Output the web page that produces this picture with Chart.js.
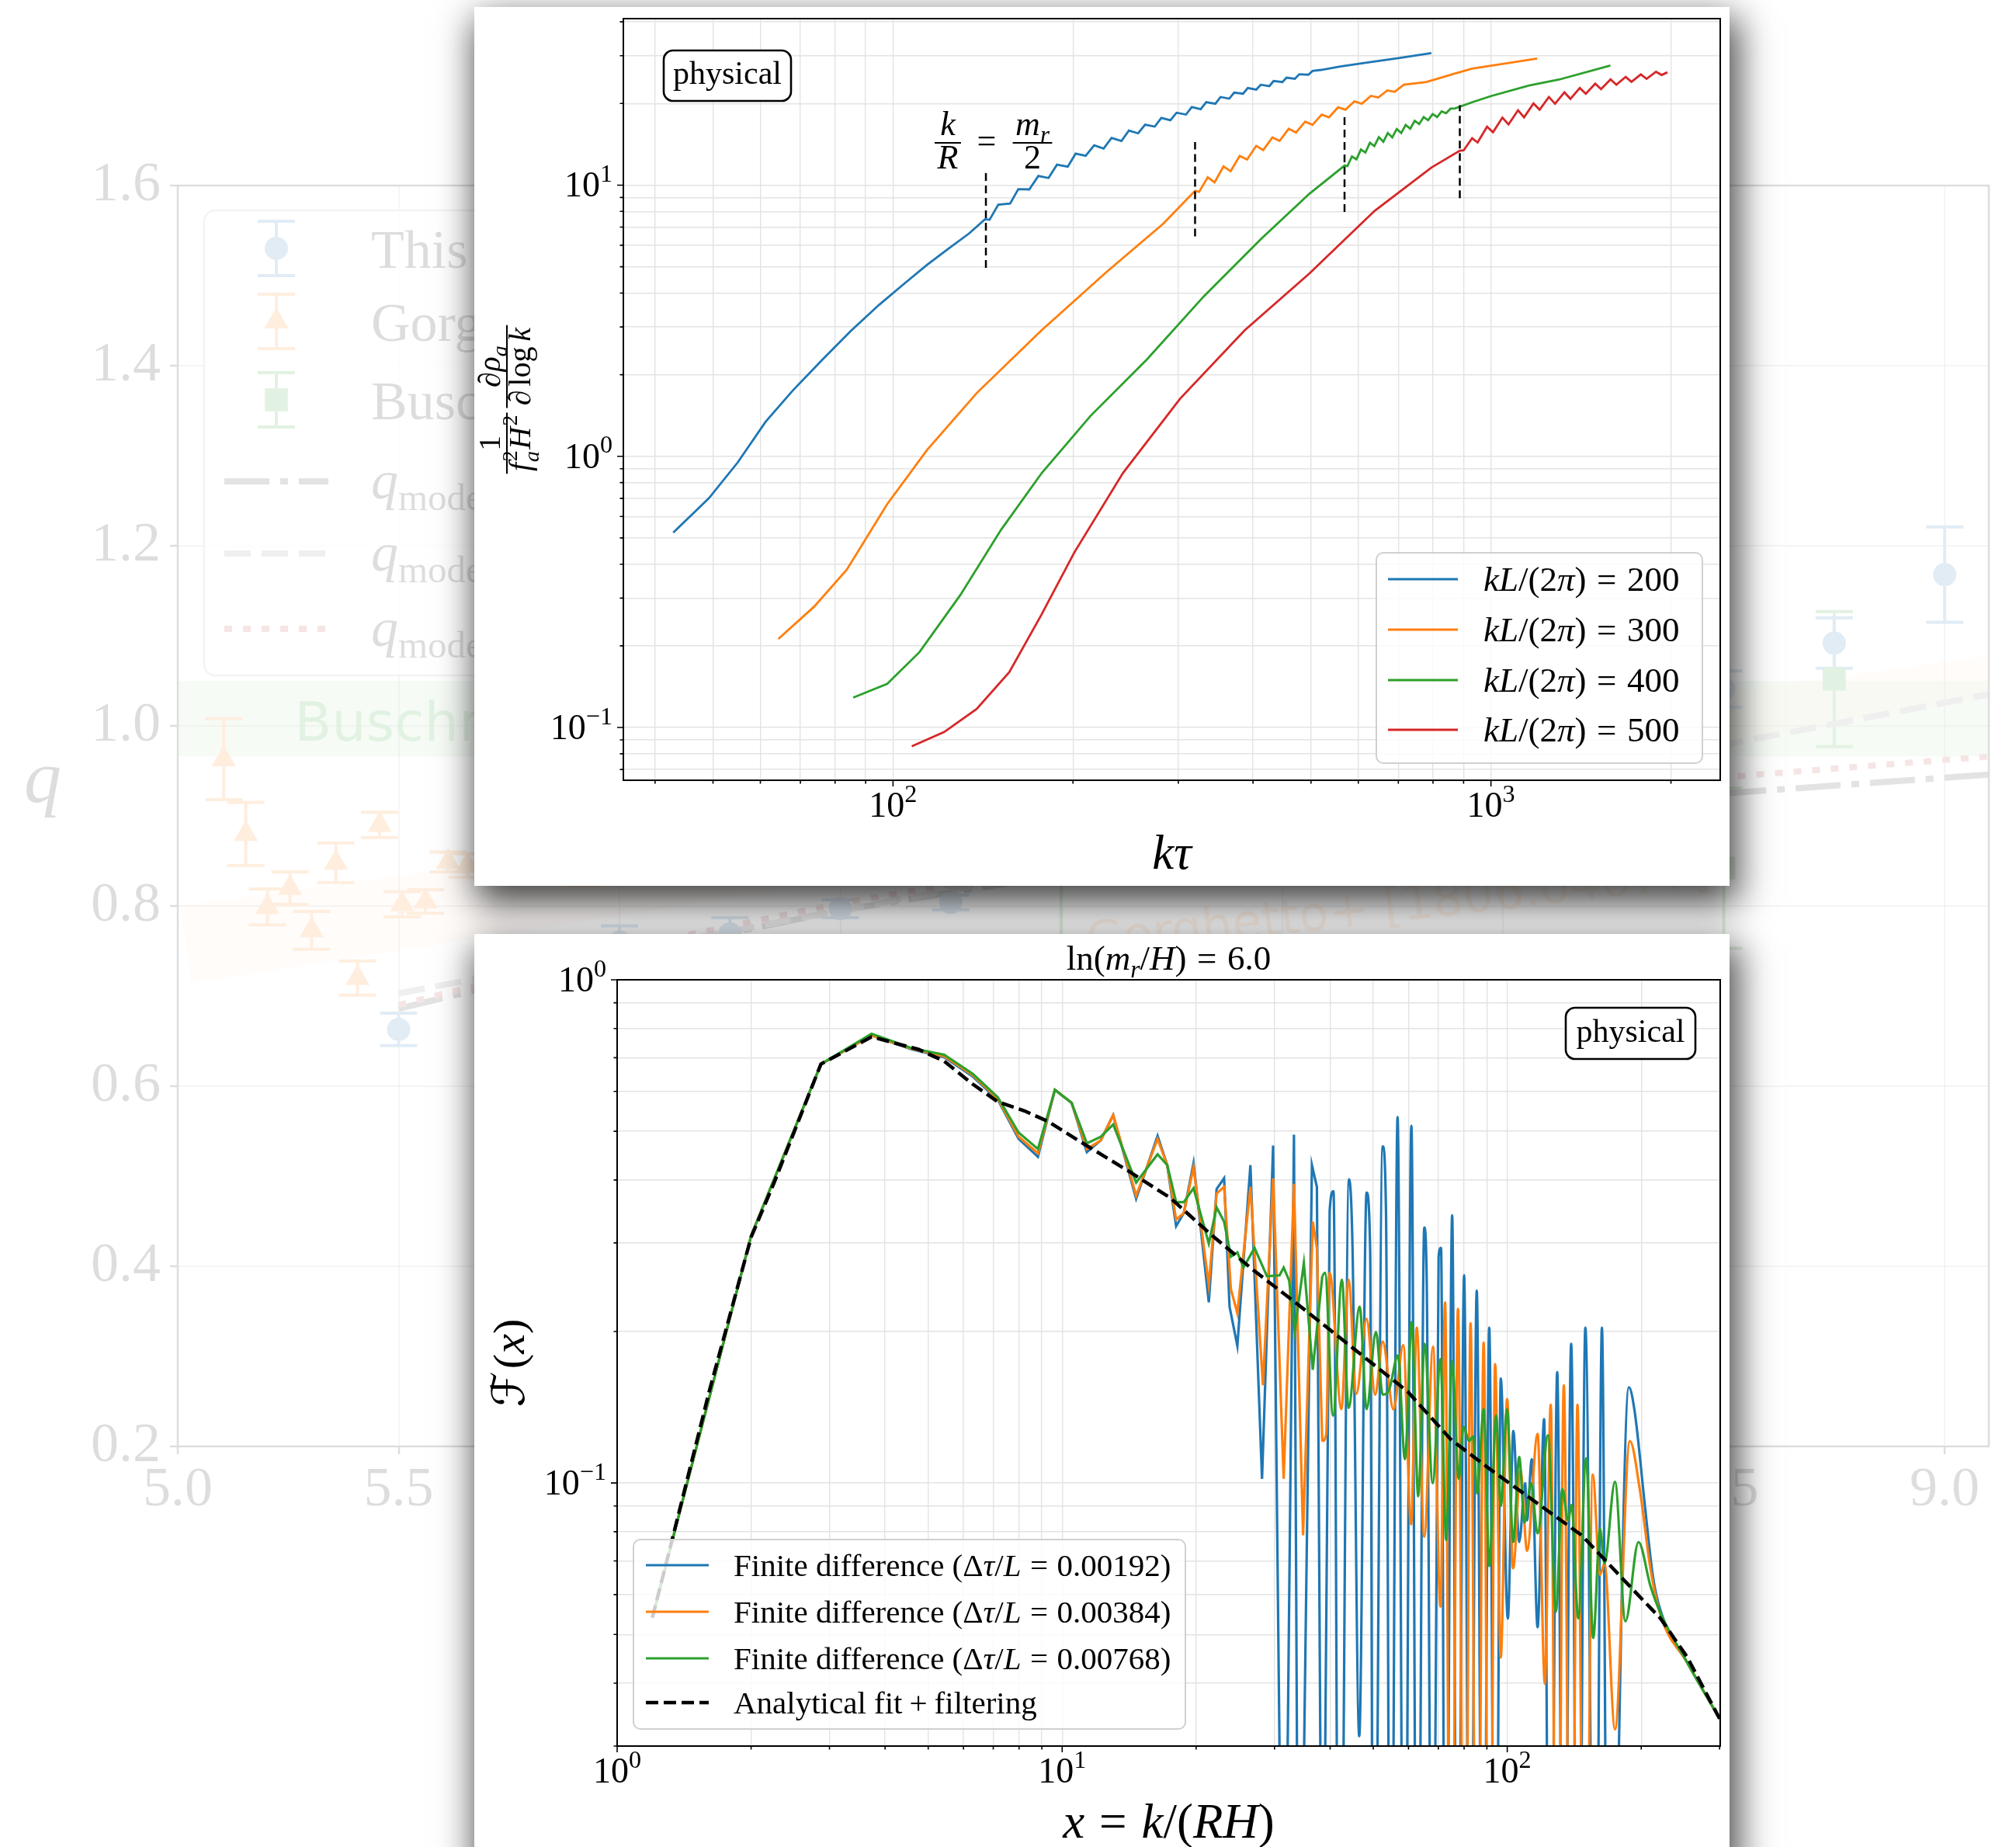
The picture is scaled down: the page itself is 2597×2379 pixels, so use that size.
<!DOCTYPE html>
<html lang="en">
<head>
<meta charset="utf-8">
<title>Axion spectrum panels</title>
<script src="https://cdn.jsdelivr.net/npm/chart.js@4.4.1/dist/chart.umd.min.js"></script>
<style>
  html, body { margin: 0; padding: 0; background: #fff; }
  body { width: 2597px; height: 2379px; position: relative; overflow: hidden; }
  #bgWrap { position: absolute; left: 0; top: 0; opacity: 0.13; }
  .card { position: absolute; background: #fff; box-shadow: 6px 18px 45px 4px rgba(0,0,0,0.75); }
  #cardTop { left: 611px; top: 9px; width: 1617px; height: 1132px; }
  #cardBot { left: 611px; top: 1203px; width: 1617px; height: 1200px; }
  canvas { display: block; }
</style>
</head>
<body>
<div id="bgWrap"><canvas id="bg" width="2597" height="2379"></canvas></div>
<div class="card" id="cardTop"><canvas id="top" width="1617" height="1132"></canvas></div>
<div class="card" id="cardBot"><canvas id="bot" width="1617" height="1200"></canvas></div>
<script>
// ---------- shared styling ----------
const SERIF = '"Liberation Serif", "DejaVu Serif", serif';
const SANS = '"DejaVu Sans", "Liberation Sans", sans-serif';
const SCRIPT = '"DejaVu Sans", "Noto Sans", serif';
const BLUE = '#1f77b4', ORANGE = '#ff7f0e', GREEN = '#2ca02c', RED = '#d62728';

// ---------- background panel: q against ln(m_r/H) ----------
const qTickX = [5.0, 5.5, 6.0, 6.5, 7.0, 7.5, 8.0, 8.5, 9.0];
const qTickY = [0.2, 0.4, 0.6, 0.8, 1.0, 1.2, 1.4, 1.6];
const workX   = [5.5, 6.0, 6.25, 6.5, 6.75, 8.5, 8.75, 9.0];
const workQ   = [0.663, 0.760, 0.769, 0.797, 0.804, 1.041, 1.092, 1.168];
const workErr = [0.018, 0.018, 0.018, 0.010, 0.008, 0.020, 0.028, 0.053];
const gorX   = [5.104, 5.154, 5.203, 5.254, 5.303, 5.358, 5.407, 5.457, 5.508, 5.561, 5.612, 5.656, 5.92, 6.03];
const gorQ   = [0.963, 0.880, 0.799, 0.820, 0.773, 0.848, 0.720, 0.890, 0.802, 0.805, 0.849, 0.845, 0.845, 0.847];
const gorErr = [0.045, 0.035, 0.020, 0.018, 0.021, 0.022, 0.019, 0.014, 0.014, 0.013, 0.011, 0.013, 0.022, 0.022];
const busX   = [7.0, 8.5, 8.75];
const busQ   = [0.860, 0.842, 1.052];
const busErr = [0.120, 0.089, 0.075];
const modelX       = [5.5, 6.0, 6.5, 7.0, 7.5, 8.0, 8.5, 9.1];
const modelDashDot = [0.686, 0.745, 0.795, 0.835, 0.868, 0.897, 0.925, 0.946];
const modelDashed  = [0.703, 0.749, 0.795, 0.841, 0.887, 0.933, 0.979, 1.035];
const modelDotted  = [0.690, 0.752, 0.803, 0.845, 0.880, 0.912, 0.943, 0.966];
const busBandX = [5.0, 9.1], busBandLo = [0.966, 0.966], busBandHi = [1.05, 1.05];
const gorBandTopX = [5.007, 9.1], gorBandTopQ = [0.800, 1.078];
const gorBandBotX = [5.030, 9.1], gorBandBotQ = [0.714, 1.031];
const bgLegendLabels = ['This work', 'Gorghetto+ [1806.04677]', 'Buschmann+ [2108.05368]'];
const bandLabels = ['Gorghetto+ [1806.04677]', 'Buschmann+ [2108.05368]'];

// ---------- upper panel: spectrum of each mode against k*tau ----------
const modeN = [200, 300, 400, 500];
const kTau200 = [42.9, 49.2, 55, 61.2, 68, 76.3, 85, 94.8, 104, 114, 124, 134, 142.5, 145, 150, 157, 162, 169, 175, 182, 188, 196, 202, 210, 217, 225, 232, 241, 248, 257, 264, 274, 281, 291, 298, 309, 316, 327, 334, 346, 353, 365, 372, 385, 392, 405, 412, 426, 433, 448, 455, 470, 478, 495, 503, 520, 560, 620, 700, 795];
const rho200  = [0.523, 0.70, 0.95, 1.34, 1.75, 2.28, 2.9, 3.62, 4.3, 5.08, 5.85, 6.63, 7.48, 7.45, 8.47, 8.55, 9.66, 9.64, 10.81, 10.62, 11.89, 11.70, 13.06, 12.82, 14.03, 13.65, 14.93, 14.55, 15.89, 15.52, 16.71, 16.44, 17.70, 17.34, 18.49, 18.20, 19.41, 19.05, 20.23, 19.95, 21.13, 20.84, 21.93, 21.73, 22.80, 22.49, 23.44, 23.17, 24.21, 23.99, 24.89, 24.66, 25.64, 25.53, 26.36, 26.6, 27.4, 28.3, 29.4, 30.7];
const kTau300 = [64.3, 73.8, 83.7, 97.8, 114, 138, 177, 228, 283, 320, 325, 336, 345, 357, 367, 380, 391, 405, 416, 431, 443, 459, 472, 489, 503, 521, 536, 555, 571, 591, 608, 630, 648, 671, 690, 715, 780, 860, 930, 1050, 1195];
const rho300  = [0.212, 0.279, 0.382, 0.667, 1.055, 1.71, 2.91, 4.8, 7.2, 9.53, 9.44, 10.69, 10.23, 11.72, 11.25, 12.82, 12.42, 13.96, 13.46, 15.0, 14.55, 16.14, 15.63, 17.14, 16.67, 18.2, 17.78, 19.36, 18.97, 20.37, 19.95, 21.33, 21.04, 22.34, 22.08, 23.44, 24.0, 25.6, 26.9, 28.0, 29.3];
const kTau400 = [85.8, 97.8, 110.8, 129.6, 151.6, 177.4, 214, 266, 331, 412, 497, 569, 575.4, 585.5, 595.7, 606.1, 616.6, 627.4, 638.3, 649.4, 660.7, 672.2, 683.9, 695.8, 707.9, 720.1, 732.8, 745.5, 758.6, 771.8, 785.2, 798.9, 812.8, 826.9, 841.4, 855.9, 871, 930, 1000, 1158, 1300, 1584];
const rho400  = [0.129, 0.145, 0.190, 0.308, 0.536, 0.869, 1.41, 2.28, 3.89, 6.31, 9.29, 11.8, 11.75, 12.76, 12.45, 13.52, 13.18, 14.32, 13.93, 15.03, 14.45, 15.56, 15.0, 16.1, 15.56, 16.67, 16.14, 17.26, 16.79, 17.82, 17.34, 18.28, 17.82, 18.71, 18.41, 19.14, 19.19, 20.2, 21.3, 23.3, 24.5, 27.6];
const kTau500 = [107.5, 121.8, 138, 156.5, 177, 201, 242.5, 302, 387, 497, 639, 795, 887, 900, 930, 950, 985, 1008, 1045, 1070, 1110, 1136, 1178, 1206, 1250, 1280, 1327, 1358, 1408, 1441, 1494, 1528, 1585, 1621, 1680, 1718, 1781, 1821, 1888, 1930, 1973];
const rho500  = [0.0853, 0.0963, 0.117, 0.16, 0.26, 0.442, 0.869, 1.63, 2.91, 4.72, 8.04, 11.6, 13.4, 13.43, 14.89, 14.36, 16.41, 15.67, 17.74, 16.75, 18.88, 17.78, 20.0, 18.97, 21.13, 19.95, 21.98, 20.8, 22.8, 21.73, 23.66, 22.6, 24.55, 23.44, 25.06, 24.04, 25.59, 24.66, 26.18, 25.47, 26.06];
// k/R = m_r/2 markers: position and vertical extent
const markKTau = [143, 320, 569, 887];
const markLo   = [4.95, 6.47, 7.96, 8.95];
const markHi   = [11.2, 14.4, 17.9, 19.7];

// ---------- lower panel: F(x) at ln(m_r/H) = 6 ----------
const lnMrH = 6.0;
const stepLabels = ['0.00192', '0.00384', '0.00768'];
const fd1LoX = [1.2, 2.0, 2.87, 3.73, 4.6, 5.43, 6.3, 7.17, 7.98, 8.82, 9.63, 10.5, 11.36, 12.21, 13.02, 14.66, 16.38, 17.22, 18.03, 18.76, 19.73, 21.35, 22.23, 23.11, 23.77, 24.75, 26.48, 28.12, 29.78, 31.45, 33.17, 34.03, 36.4, 37.35, 38.5];
const fd1LoF = [0.054, 0.31, 0.68, 0.775, 0.727, 0.702, 0.642, 0.577, 0.483, 0.445, 0.6045, 0.5696, 0.4546, 0.4797, 0.5385, 0.3672, 0.4894, 0.4282, 0.324, 0.3438, 0.4326, 0.2286, 0.3838, 0.4034, 0.224, 0.1872, 0.4282, 0.1019, 0.4684, 0.005, 0.4923, 0.005, 0.4282, 0.3876, 0.005];
const fd1HiX = [38.5, 39.9, 40.7, 41.96, 44.1, 44.9, 46.5, 48.3, 49.2, 50.1, 52.5, 53.4, 54.7, 56.7, 58.7, 60.9, 62.8, 65.1, 65.9, 68.0, 70.1, 71.0, 72.7, 75.2, 77.3, 80.0, 82.5, 85.4, 88.2, 91.1, 94.1, 96.7, 100.3, 103.2, 106.4, 109.7, 110.8, 113.5, 117.0, 121.0, 124.8, 129.5, 134.0, 139.2, 144.4, 149.8, 157.7, 163.2, 168.8, 187.6, 193.3, 204.0, 212.6, 221.4, 253.6, 300];
const fd1HiF = [0.005, 0.3474, 0.38, 0.005, 0.401, 0.2961, 0.0314, 0.3778, 0.2903, 0.005, 0.4666, 0.3474, 0.005, 0.5333, 0.005, 0.5125, 0.005, 0.3219, 0.2576, 0.005, 0.2817, 0.2932, 0.005, 0.3405, 0.005, 0.2586, 0.005, 0.2411, 0.005, 0.2036, 0.005, 0.1612, 0.0538, 0.1269, 0.0763, 0.0999, 0.0843, 0.1115, 0.0517, 0.1339, 0.005, 0.1661, 0.005, 0.1891, 0.005, 0.2036, 0.005, 0.2036, 0.005, 0.1549, 0.1388, 0.0895, 0.065, 0.0555, 0.044, 0.034];
const fd2LoX = [1.2, 2.0, 2.87, 3.73, 4.6, 5.43, 6.3, 7.17, 7.98, 8.82, 9.63, 10.5, 11.36, 12.21, 13.02, 14.66, 16.38, 17.22, 18.03, 18.76, 19.73, 21.35, 22.23, 23.11, 23.94, 24.75, 26.48, 28.25, 29.78, 31.45, 33.17, 34.77, 36.56, 37.35, 38.4];
const fd2LoF = [0.054, 0.31, 0.68, 0.775, 0.729, 0.705, 0.646, 0.58, 0.488, 0.452, 0.6045, 0.5696, 0.461, 0.4797, 0.5385, 0.3724, 0.4827, 0.4282, 0.3338, 0.3438, 0.4239, 0.2474, 0.3762, 0.3876, 0.2425, 0.2174, 0.3876, 0.1564, 0.4034, 0.1019, 0.393, 0.0787, 0.3305, 0.2931, 0.121];
const fd2HiX = [38.4, 39.2, 39.9, 42.4, 44.0, 45.8, 48.3, 50.5, 52.5, 55.5, 58.4, 60.8, 62.6, 65.1, 68.1, 70.8, 72.5, 74.7, 77.5, 80.3, 82.7, 85.6, 88.5, 91.3, 93.9, 96.7, 99.9, 103.1, 107.1, 110.8, 117.0, 121.5, 125.2, 129.5, 134.0, 139.2, 143.8, 149.4, 155.6, 161.6, 165.4, 174.6, 188.6, 198.6, 209.7, 221.4, 253.6, 300];
const fd2HiF = [0.121, 0.125, 0.2617, 0.1402, 0.2535, 0.1504, 0.2118, 0.1498, 0.191, 0.14, 0.188, 0.0827, 0.2036, 0.0782, 0.1865, 0.0568, 0.2285, 0.005, 0.2218, 0.005, 0.2077, 0.005, 0.19, 0.005, 0.1722, 0.045, 0.1468, 0.0677, 0.106, 0.0733, 0.1252, 0.0399, 0.143, 0.005, 0.1564, 0.005, 0.143, 0.005, 0.1039, 0.0657, 0.0691, 0.0324, 0.1212, 0.0969, 0.0677, 0.0544, 0.044, 0.034];
const fd3LoX = [1.2, 2.0, 2.87, 3.73, 4.6, 5.43, 6.3, 7.17, 7.98, 8.82, 9.63, 10.5, 11.36, 12.21, 13.02, 14.66, 16.38, 17.22, 18.03, 18.76, 19.73, 21.35, 22.23, 23.11, 23.94, 24.75, 25.55, 27.05, 28.85, 30.78, 31.45, 32.36, 33.31, 34.91, 36.56, 38.4];
const fd3LoF = [0.054, 0.31, 0.68, 0.781, 0.731, 0.71, 0.65, 0.584, 0.497, 0.461, 0.6045, 0.5696, 0.4731, 0.4875, 0.5157, 0.3954, 0.4501, 0.4282, 0.3614, 0.3614, 0.3853, 0.299, 0.3529, 0.3305, 0.2817, 0.2873, 0.268, 0.2931, 0.2576, 0.2586, 0.268, 0.2525, 0.2008, 0.2734, 0.1678, 0.2576];
const fd3HiX = [38.4, 38.95, 40.6, 42.5, 44.0, 46.6, 48.3, 50.7, 52.5, 54.3, 56.8, 58.9, 61.0, 63.1, 65.2, 68.0, 70.8, 72.9, 75.2, 77.8, 79.7, 82.1, 83.8, 85.6, 88.5, 91.2, 94.4, 96.7, 99.9, 103.1, 106.4, 109.3, 113.1, 117.0, 123.5, 128.6, 133.0, 136.9, 139.5, 144.4, 150.4, 156.0, 161.6, 165.4, 174.6, 184.3, 197.2, 209.7, 221.4, 253.6, 300];
const fd3HiF = [0.2576, 0.2617, 0.1361, 0.2535, 0.141, 0.224, 0.1402, 0.1995, 0.1498, 0.1534, 0.1792, 0.1115, 0.2089, 0.0941, 0.1891, 0.0999, 0.1763, 0.0771, 0.1746, 0.1019, 0.1294, 0.1212, 0.1237, 0.0954, 0.1402, 0.0684, 0.1361, 0.09, 0.1402, 0.0763, 0.1126, 0.0835, 0.0999, 0.0794, 0.1244, 0.0555, 0.0973, 0.0843, 0.0904, 0.0538, 0.1119, 0.0492, 0.081, 0.0691, 0.1005, 0.0531, 0.0763, 0.0625, 0.0549, 0.044, 0.034];
const fitX = [1.2, 1.33, 1.61, 2.0, 2.25, 2.87, 3.73, 4.76, 5.43, 6.3, 7.17, 8.22, 9.29, 11.36, 14.08, 17.46, 21.66, 26.86, 33.3, 39.0, 59.7, 74.7, 90.8, 147, 188, 221, 254, 300];
const fitF = [0.054, 0.0773, 0.152, 0.308, 0.394, 0.68, 0.77, 0.727, 0.689, 0.62, 0.572, 0.549, 0.523, 0.468, 0.417, 0.369, 0.311, 0.265, 0.229, 0.205, 0.152, 0.122, 0.107, 0.0787, 0.0625, 0.0538, 0.045, 0.034];

// ---------- helpers ----------
const pts = (xs, ys) => xs.map((v, i) => ({x: v, y: ys[i]}));

function logTicks(min, max) {
  const out = [];
  for (let e = Math.floor(Math.log10(min)); e <= Math.ceil(Math.log10(max)); e++) {
    for (let m = 1; m <= 9; m++) {
      const v = m * Math.pow(10, e);
      if (v >= min * 0.9999 && v <= max * 1.0001) out.push({value: v, major: m === 1});
    }
  }
  return out;
}

// rich text: parts are [text, relSize, style('r'|'i'|'c'), dy(em), gapBefore(em), noAdvance]
function richItems(ctx, parts, size) {
  return parts.map(p => {
    const t = p[0], rel = p[1] || 1, st = p[2] || 'r', dy = p[3] || 0, gap = p[4] || 0, still = !!p[5];
    const fam = st === 'c' ? SCRIPT : SERIF;
    const font = (st === 'i' ? 'italic ' : '') + (size * rel).toFixed(1) + 'px ' + fam;
    ctx.font = font;
    return {t, font, dy: dy * size, gap: gap * size, w: ctx.measureText(t).width, still};
  });
}
function richWidth(ctx, parts, size) {
  return richItems(ctx, parts, size).reduce((s, it) => s + it.gap + (it.still ? 0 : it.w), 0);
}
function drawRich(ctx, parts, x, y, size, align) {
  const items = richItems(ctx, parts, size);
  const total = items.reduce((s, it) => s + it.gap + (it.still ? 0 : it.w), 0);
  let cx = align === 'center' ? x - total / 2 : (align === 'right' ? x - total : x);
  ctx.textAlign = 'left';
  ctx.textBaseline = 'alphabetic';
  for (const it of items) {
    cx += it.gap;
    ctx.font = it.font;
    ctx.fillText(it.t, cx, y + it.dy);
    if (!it.still) cx += it.w;
  }
  return total;
}
function fracWidth(ctx, num, den, size) {
  return Math.max(richWidth(ctx, num, size), richWidth(ctx, den, size)) + size * 0.16;
}
function drawFrac(ctx, num, den, cx, barY, size) {
  const w = fracWidth(ctx, num, den, size);
  ctx.beginPath();
  ctx.lineWidth = Math.max(1.6, size * 0.05);
  ctx.moveTo(cx - w / 2, barY);
  ctx.lineTo(cx + w / 2, barY);
  ctx.stroke();
  drawRich(ctx, num, cx, barY - size * 0.22, size, 'center');
  drawRich(ctx, den, cx, barY + size * 0.74, size, 'center');
  return w;
}
function roundRectPath(ctx, x, y, w, h, r) {
  ctx.beginPath();
  ctx.moveTo(x + r, y);
  ctx.arcTo(x + w, y, x + w, y + h, r);
  ctx.arcTo(x + w, y + h, x, y + h, r);
  ctx.arcTo(x, y + h, x, y, r);
  ctx.arcTo(x, y, x + w, y, r);
  ctx.closePath();
}
function tagBox(ctx, x, y, w, h, text, size) {
  roundRectPath(ctx, x, y, w, h, 12);
  ctx.fillStyle = '#fff';
  ctx.fill();
  ctx.lineWidth = 2.6;
  ctx.strokeStyle = '#000';
  ctx.stroke();
  ctx.fillStyle = '#000';
  drawRich(ctx, [[text]], x + w / 2, y + h / 2 + size * 0.25, size, 'center');
}
function legendFrame(ctx, x, y, w, h) {
  roundRectPath(ctx, x, y, w, h, 9);
  ctx.fillStyle = 'rgba(255,255,255,0.8)';
  ctx.fill();
  ctx.lineWidth = 2;
  ctx.strokeStyle = '#d0d0d0';
  ctx.stroke();
}
function powLabel(ctx, e, x, y, align) {
  const ex = e < 0 ? '\u2212' + (-e) : String(e);
  drawRich(ctx, [['10'], [ex, 0.7, 'r', -0.42]], x, y, 46, align);
}
// tick marks, frame and power-of-ten labels of a log-log panel
function axisDecor(chart, expX, expY) {
  const {ctx, chartArea: a, scales: {x, y}} = chart;
  ctx.save();
  ctx.strokeStyle = '#000';
  ctx.fillStyle = '#000';
  ctx.lineWidth = 1.6;
  ctx.beginPath();
  for (const t of x.ticks) {
    const px = x.getPixelForValue(t.value), L = t.major ? 8 : 4.5;
    ctx.moveTo(px, a.bottom); ctx.lineTo(px, a.bottom + L);
  }
  for (const t of y.ticks) {
    const py = y.getPixelForValue(t.value), L = t.major ? 8 : 4.5;
    ctx.moveTo(a.left - L, py); ctx.lineTo(a.left, py);
  }
  ctx.stroke();
  ctx.lineWidth = 2;
  ctx.strokeRect(a.left, a.top, a.right - a.left, a.bottom - a.top);
  for (const e of expX) powLabel(ctx, e, x.getPixelForValue(Math.pow(10, e)), a.bottom + 47, 'center');
  for (const e of expY) powLabel(ctx, e, a.left - 14, y.getPixelForValue(Math.pow(10, e)) + 15, 'right');
  ctx.restore();
}
function lineDs(xs, ys, color, extra) {
  return Object.assign({
    data: pts(xs, ys), showLine: true, borderColor: color, backgroundColor: color,
    borderWidth: 2.8, pointRadius: 0, pointHoverRadius: 0, fill: false, tension: 0
  }, extra || {});
}
function panelOptions(cfg) {
  return {
    responsive: false, animation: false, devicePixelRatio: 1, events: [],
    layout: {padding: {top: cfg.top, right: cfg.right, left: 0, bottom: 0}},
    plugins: {legend: {display: false}, tooltip: {enabled: false}},
    elements: {line: {capBezierPoints: false}},
    scales: {
      x: {
        type: 'logarithmic', min: cfg.xmin, max: cfg.xmax,
        afterBuildTicks: s => { s.ticks = logTicks(cfg.xmin, cfg.xmax); },
        afterFit: s => { s.height = cfg.bottomH; },
        grid: {color: '#e3e3e3', lineWidth: 1.4, drawTicks: false},
        border: {display: false}, ticks: {display: false}
      },
      y: {
        type: 'logarithmic', min: cfg.ymin, max: cfg.ymax,
        afterBuildTicks: s => { s.ticks = logTicks(cfg.ymin, cfg.ymax); },
        afterFit: s => { s.width = cfg.leftW; },
        grid: {color: '#e3e3e3', lineWidth: 1.4, drawTicks: false},
        border: {display: false}, ticks: {display: false}
      }
    }
  };
}

// ---------- background chart ----------
function errBars(ctx, xs, qs, es, color, sx, sy) {
  ctx.strokeStyle = color;
  ctx.lineWidth = 4;
  ctx.beginPath();
  xs.forEach((v, i) => {
    const px = sx.getPixelForValue(v);
    const p0 = sy.getPixelForValue(qs[i] - es[i]), p1 = sy.getPixelForValue(qs[i] + es[i]);
    ctx.moveTo(px, p0); ctx.lineTo(px, p1);
    ctx.moveTo(px - 24, p0); ctx.lineTo(px + 24, p0);
    ctx.moveTo(px - 24, p1); ctx.lineTo(px + 24, p1);
  });
  ctx.stroke();
}
function fillPoly(ctx, list, color) {
  ctx.beginPath();
  list.forEach((p, i) => i ? ctx.lineTo(p[0], p[1]) : ctx.moveTo(p[0], p[1]));
  ctx.closePath();
  ctx.fillStyle = color;
  ctx.fill();
}
const bgDecor = {
  id: 'bgDecor',
  beforeDatasetsDraw(chart) {
    const {ctx, chartArea: a, scales: {x, y}} = chart;
    const P = (vx, vy) => [x.getPixelForValue(vx), y.getPixelForValue(vy)];
    ctx.save();
    ctx.beginPath();
    ctx.rect(a.left, a.top, a.right - a.left, a.bottom - a.top);
    ctx.clip();
    fillPoly(ctx, [P(busBandX[0], busBandHi[0]), P(busBandX[1], busBandHi[1]), P(busBandX[1], busBandLo[1]), P(busBandX[0], busBandLo[0])], 'rgba(44,160,44,0.32)');
    fillPoly(ctx, [P(gorBandTopX[0], gorBandTopQ[0]), P(gorBandTopX[1], gorBandTopQ[1]), P(gorBandBotX[1], gorBandBotQ[1]), P(gorBandBotX[0], gorBandBotQ[0])], 'rgba(255,127,14,0.16)');
    ctx.textAlign = 'left';
    ctx.textBaseline = 'alphabetic';
    const [bx, by] = P(5.264, 0.984);
    ctx.fillStyle = GREEN;
    ctx.font = '70px ' + SANS;
    ctx.fillText(bandLabels[1], bx, by);
    const [gx, gy] = P(7.061, 0.744);
    ctx.save();
    ctx.translate(gx, gy);
    ctx.rotate(-6.5 * Math.PI / 180);
    ctx.fillStyle = ORANGE;
    ctx.globalAlpha = 0.6;
    ctx.font = '62px ' + SANS;
    ctx.fillText(bandLabels[0], 0, 0);
    ctx.restore();
    errBars(ctx, gorX, gorQ, gorErr, ORANGE, x, y);
    errBars(ctx, busX, busQ, busErr, GREEN, x, y);
    errBars(ctx, workX, workQ, workErr, BLUE, x, y);
    ctx.restore();
  },
  afterDatasetsDraw(chart) {
    const {ctx, chartArea: a} = chart;
    ctx.save();
    ctx.strokeStyle = '#000';
    ctx.lineWidth = 2.5;
    ctx.strokeRect(a.left, a.top, a.right - a.left, a.bottom - a.top);
    ctx.fillStyle = '#000';
    drawRich(ctx, [['q', 1, 'i']], 55, 1033, 96, 'center');
    // legend
    roundRectPath(ctx, 263, 271, 1400, 599, 14);
    ctx.fillStyle = 'rgba(255,255,255,0.8)';
    ctx.fill();
    ctx.strokeStyle = '#aaa';
    ctx.lineWidth = 2.5;
    ctx.stroke();
    const rows = [320, 414, 515, 620, 713, 810];
    const marks = [[BLUE, 'circle', 15], [ORANGE, 'triangle', 18], [GREEN, 'rect', 21]];
    marks.forEach((m, i) => {
      const cy = rows[i];
      ctx.strokeStyle = m[0];
      ctx.lineWidth = 4;
      ctx.beginPath();
      ctx.moveTo(356, cy - 35); ctx.lineTo(356, cy + 35);
      ctx.moveTo(332, cy - 35); ctx.lineTo(380, cy - 35);
      ctx.moveTo(332, cy + 35); ctx.lineTo(380, cy + 35);
      ctx.stroke();
      ctx.fillStyle = m[0];
      Chart.helpers.drawPoint(ctx, {pointStyle: m[1], radius: m[2], borderWidth: 0, rotation: 0}, 356, cy);
      ctx.fillStyle = '#000';
      drawRich(ctx, [[bgLegendLabels[i]]], 478, cy + 25, 70, 'left');
    });
    const lineStyles = [['#333', [58, 14, 10, 14]], ['#888', [34, 14]], ['#c04040', [10, 14]]];
    lineStyles.forEach((s, j) => {
      const cy = rows[3 + j];
      ctx.strokeStyle = s[0];
      ctx.lineWidth = 8;
      ctx.setLineDash(s[1]);
      ctx.beginPath(); ctx.moveTo(289, cy); ctx.lineTo(423, cy); ctx.stroke();
      ctx.setLineDash([]);
      ctx.fillStyle = '#000';
      drawRich(ctx, [['q', 1, 'i'], ['model', 0.7, 'r', 0.22]], 478, cy + 22, 70, 'left');
    });
    ctx.restore();
  }
};

new Chart(document.getElementById('bg'), {
  type: 'scatter',
  data: {
    datasets: [
      {data: pts(workX, workQ), pointStyle: 'circle', pointRadius: 15, backgroundColor: BLUE, borderWidth: 0},
      {data: pts(busX, busQ), pointStyle: 'rect', pointRadius: 21, backgroundColor: GREEN, borderWidth: 0},
      {data: pts(gorX, gorQ), pointStyle: 'triangle', pointRadius: 18, backgroundColor: ORANGE, borderWidth: 0},
      lineDs(modelX, modelDotted, '#c04040', {borderWidth: 8, borderDash: [10, 14]}),
      lineDs(modelX, modelDashed, '#888', {borderWidth: 8, borderDash: [34, 14]}),
      lineDs(modelX, modelDashDot, '#333', {borderWidth: 8, borderDash: [58, 14, 10, 14]})
    ]
  },
  options: {
    responsive: false, animation: false, devicePixelRatio: 1, events: [],
    layout: {padding: {top: 239, right: 35, left: 0, bottom: 0}},
    plugins: {legend: {display: false}, tooltip: {enabled: false}},
    scales: {
      x: {
        type: 'linear', min: 5.0, max: 9.1,
        afterBuildTicks: s => { s.ticks = qTickX.map(v => ({value: v})); },
        afterFit: s => { s.height = 2379 - 1863; },
        grid: {color: 'rgba(0,0,0,0.3)', lineWidth: 2, tickLength: 10, tickColor: '#000', tickWidth: 2.5},
        border: {display: false},
        ticks: {font: {family: SERIF, size: 72}, color: '#000', padding: 4, maxRotation: 0, callback: v => Number(v).toFixed(1)}
      },
      y: {
        type: 'linear', min: 0.2, max: 1.6,
        afterBuildTicks: s => { s.ticks = qTickY.map(v => ({value: v})); },
        afterFit: s => { s.width = 229; },
        grid: {color: 'rgba(0,0,0,0.3)', lineWidth: 2, tickLength: 10, tickColor: '#000', tickWidth: 2.5},
        border: {display: false},
        ticks: {font: {family: SERIF, size: 72}, color: '#000', padding: 12, callback: v => Number(v).toFixed(1)}
      }
    }
  },
  plugins: [bgDecor]
});

// ---------- upper panel ----------
const topDecor = {
  id: 'topDecor',
  afterDatasetsDraw(chart) {
    const {ctx, chartArea: a} = chart;
    ctx.save();
    ctx.fillStyle = '#000';
    ctx.strokeStyle = '#000';
    tagBox(ctx, a.left + 52, a.top + 41, 164, 65, 'physical', 42);
    const s = 44;
    drawFrac(ctx, [['k', 1, 'i']], [['R', 1, 'i']], 610, 175, s);
    drawRich(ctx, [['=']], 660, 175 + 0.27 * s, s, 'center');
    drawFrac(ctx, [['m', 1, 'i'], ['r', 0.7, 'i', 0.22]], [['2']], 719, 175, s);
    legendFrame(ctx, 1162, 703, 420, 271);
    const rowsY = [737, 802, 867, 931];
    const cols = [BLUE, ORANGE, GREEN, RED];
    rowsY.forEach((yy, i) => {
      ctx.strokeStyle = cols[i];
      ctx.lineWidth = 3;
      ctx.beginPath(); ctx.moveTo(1177, yy); ctx.lineTo(1267, yy); ctx.stroke();
      ctx.fillStyle = '#000';
      drawRich(ctx, [['k', 1, 'i'], ['L', 1, 'i'], ['/(2'], ['\u03c0', 1, 'i'], [')'], ['=', 1, 'r', 0, 0.3], [String(modeN[i]), 1, 'r', 0, 0.3]], 1300, yy + 15, 45, 'left');
    });
    ctx.restore();
  },
  afterDraw(chart) {
    axisDecor(chart, [2, 3], [-1, 0, 1]);
    const {ctx, chartArea: a} = chart;
    ctx.save();
    ctx.fillStyle = '#000';
    ctx.strokeStyle = '#000';
    drawRich(ctx, [['k', 1, 'i'], ['\u03c4', 1, 'i']], (a.left + a.right) / 2, a.bottom + 114, 63, 'center');
    // rotated y title: 1/(f_a^2 H^2) * d rho_a / d log k
    ctx.translate(a.left - 150, (a.top + a.bottom) / 2);
    ctx.rotate(-Math.PI / 2);
    const fs = 40;
    const n1 = [['1']];
    const d1 = [['f', 1, 'i'], ['a', 0.7, 'i', 0.28, 0.02, true], ['2', 0.7, 'r', -0.42, 0.02], ['H', 1, 'i', 0, 0.04], ['2', 0.7, 'r', -0.42, 0.03]];
    const n2 = [['\u2202'], ['\u03c1', 1, 'i', 0, 0.02], ['a', 0.7, 'i', 0.22]];
    const d2 = [['\u2202'], ['log', 1, 'r', 0, 0.12], ['k', 1, 'i', 0, 0.17]];
    const w1 = fracWidth(ctx, n1, d1, fs), w2 = fracWidth(ctx, n2, d2, fs), gap = 6;
    const W = w1 + gap + w2;
    drawFrac(ctx, n1, d1, -W / 2 + w1 / 2, 0, fs);
    drawFrac(ctx, n2, d2, -W / 2 + w1 + gap + w2 / 2, 0, fs);
    ctx.restore();
  }
};

const topSets = [];
markKTau.forEach((k, i) => topSets.push(lineDs([k, k], [markLo[i], markHi[i]], '#000', {borderWidth: 2.5, borderDash: [10, 6]})));
topSets.push(lineDs(kTau200, rho200, BLUE));
topSets.push(lineDs(kTau300, rho300, ORANGE));
topSets.push(lineDs(kTau400, rho400, GREEN));
topSets.push(lineDs(kTau500, rho500, RED));

new Chart(document.getElementById('top'), {
  type: 'scatter',
  data: {datasets: topSets},
  options: panelOptions({top: 15, right: 12, bottomH: 136, leftW: 192, xmin: 35.4, xmax: 2418, ymin: 0.0639, ymax: 41.1}),
  plugins: [topDecor]
});

// ---------- lower panel ----------
const botDecor = {
  id: 'botDecor',
  afterDatasetsDraw(chart) {
    const {ctx} = chart;
    ctx.save();
    tagBox(ctx, 1406, 95, 167, 66, 'physical', 42);
    legendFrame(ctx, 205, 780, 711, 244);
    const rowsY = [813, 873, 933, 990];
    const cols = [BLUE, ORANGE, GREEN];
    rowsY.forEach((yy, i) => {
      ctx.beginPath();
      ctx.moveTo(221, yy); ctx.lineTo(302, yy);
      if (i < 3) { ctx.strokeStyle = cols[i]; ctx.lineWidth = 3.2; ctx.setLineDash([]); }
      else { ctx.strokeStyle = '#000'; ctx.lineWidth = 4.5; ctx.setLineDash([16, 7]); }
      ctx.stroke();
      ctx.setLineDash([]);
      ctx.fillStyle = '#000';
      const parts = i < 3
        ? [['Finite difference ('], ['\u0394'], ['\u03c4', 1, 'i'], ['/'], ['L', 1, 'i'], ['=', 1, 'r', 0, 0.28], [stepLabels[i] + ')', 1, 'r', 0, 0.28]]
        : [['Analytical fit'], ['+', 1, 'r', 0, 0.22], ['filtering', 1, 'r', 0, 0.22]];
      drawRich(ctx, parts, 334, yy + 14, 41, 'left');
    });
    ctx.restore();
  },
  afterDraw(chart) {
    axisDecor(chart, [0, 1, 2], [-1, 0]);
    const {ctx, chartArea: a} = chart;
    ctx.save();
    ctx.fillStyle = '#000';
    const cx = (a.left + a.right) / 2;
    drawRich(ctx, [['ln('], ['m', 1, 'i'], ['r', 0.7, 'i', 0.22], ['/'], ['H', 1, 'i'], [')'], ['=', 1, 'r', 0, 0.3], [lnMrH.toFixed(1), 1, 'r', 0, 0.3]], cx, a.top - 13, 45, 'center');
    drawRich(ctx, [['x', 1, 'i'], ['=', 1, 'r', 0, 0.3], ['k', 1, 'i', 0, 0.3], ['/('], ['RH', 1, 'i'], [')']], cx, a.bottom + 118, 63, 'center');
    ctx.translate(a.left - 140, (a.top + a.bottom) / 2);
    ctx.rotate(-Math.PI / 2);
    drawRich(ctx, [['\u2131', 1, 'c'], ['(', 1, 'r', 0, 0.06], ['x', 1, 'i'], [')']], 0, 20, 58, 'center');
    ctx.restore();
  }
};

const smooth = {cubicInterpolationMode: 'monotone', borderWidth: 3.2};
const sharp = {borderWidth: 3.2};
new Chart(document.getElementById('bot'), {
  type: 'scatter',
  data: {
    datasets: [
      lineDs(fitX, fitF, '#000', {borderWidth: 4.5, borderDash: [16, 7]}),
      lineDs(fd3LoX, fd3LoF, GREEN, sharp),
      lineDs(fd3HiX, fd3HiF, GREEN, smooth),
      lineDs(fd2LoX, fd2LoF, ORANGE, sharp),
      lineDs(fd2HiX, fd2HiF, ORANGE, smooth),
      lineDs(fd1LoX, fd1LoF, BLUE, sharp),
      lineDs(fd1HiX, fd1HiF, BLUE, smooth)
    ]
  },
  options: panelOptions({top: 59, right: 12, bottomH: 154, leftW: 184, xmin: 1, xmax: 301, ymin: 0.030, ymax: 1}),
  plugins: [botDecor]
});
</script>
</body>
</html>
